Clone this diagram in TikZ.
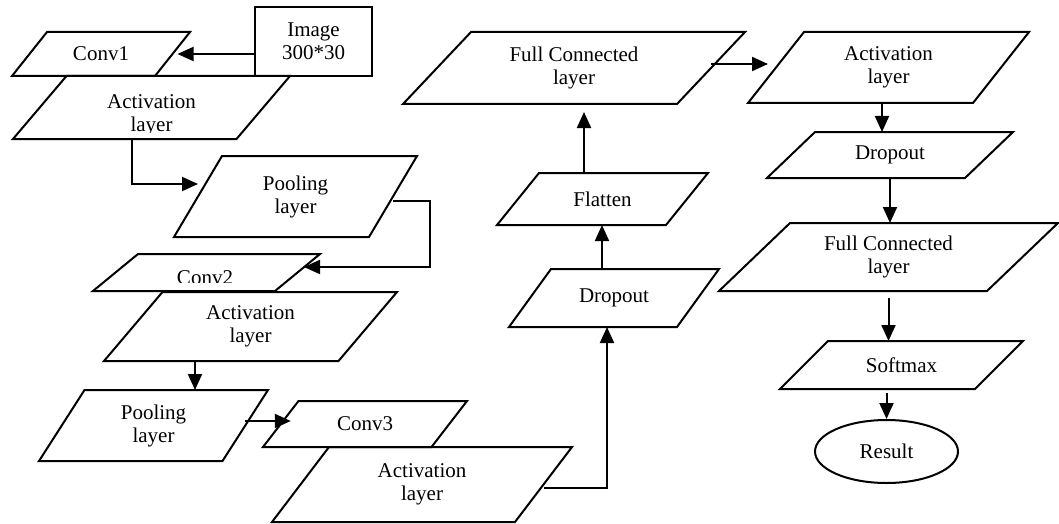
\documentclass[tikz,border=0pt]{standalone}
\usepackage{fontspec}
\setmainfont{Liberation Serif}
\usepackage{tikz}
\usetikzlibrary{shapes.geometric,arrows.meta}

\begin{document}
\begin{tikzpicture}[x=0.5pt,y=-0.5pt,
        line width=1pt,
        font=\fontsize{10.5}{11.5}\selectfont,
        % width at mid height, height, half of the lean
        layer/.style n args = {3}{rectangle,
            outer sep=0pt, inner sep=2pt, align=center,
            minimum width=#1, minimum height=#2,
            append after command={\pgfextra{%
                \draw ([xshift=#3]\tikzlastnode.north west) -- ([xshift=#3]\tikzlastnode.north east)
                    -- ([xshift=-#3]\tikzlastnode.south east) -- ([xshift=-#3]\tikzlastnode.south west) -- cycle;}}},
        flow/.style = {-{Triangle[length=8pt,width=7pt]}}]

    \useasboundingbox (0,0) rectangle (1059,524);

    % Input
    \node[draw, minimum width=58.5pt, minimum height=34.5pt, align=center] (image) at (313.5,41.5) {Image\\300*30};

    % Block 1
    \node[layer={71.5pt}{22pt}{8.75pt}] (conv1) at (101,54) {Conv1};
    \node[layer={111.75pt}{31.5pt}{13.375pt}] (act1) at (151.5,107.5) {};
    \begin{scope}
        \clip (0,0) rectangle (1059,132.5);
        \node[align=center, inner sep=0pt] (act1text) at (151.5,115.75) {Activation\\layer};
    \end{scope}
    \node[layer={97.5pt}{40.5pt}{12pt}] (pool1) at (295.5,196.5) {Pooling\\layer};

    % Block 2
    \node[layer={91pt}{18.5pt}{11.25pt}] (conv2) at (206.5,272.5) {};
    \begin{scope}
        \clip (0,0) rectangle (1059,282);
        \node[inner sep=0pt] (conv2text) at (205,278) {Conv2};
    \end{scope}
    \node[layer={117.25pt}{34.5pt}{14.625pt}] (act2) at (250.5,326.5) {Activation\\layer};
    \node[layer={91.75pt}{35.5pt}{11.375pt}] (pool2) at (153.5,425.5) {Pooling\\layer};

    % Block 3
    \node[layer={84.25pt}{23pt}{8.875pt}] (conv3) at (365,424) {Conv3};
    \node[layer={121.5pt}{37.5pt}{14.25pt}] (act3) at (422,484.5) {Activation\\layer};

    % Middle column
    \node[layer={84pt}{29pt}{10.5pt}] (drop1) at (614,298) {Dropout};
    \node[layer={84.5pt}{26pt}{10.5pt}] (flatten) at (602.5,199) {Flatten};
    \node[layer={137pt}{36pt}{17pt}] (fc1) at (574,68) {Full Connected\\layer};

    % Right column
    \node[layer={112.5pt}{35.5pt}{14pt}] (act4) at (888.5,67.5) {Activation\\layer};
    \node[layer={99pt}{23pt}{12pt}] (drop2) at (890,155) {Dropout};
    \node[layer={134pt}{34pt}{17.75pt}] (fc2) at (888.5,257) {Full Connected\\layer};
    \node[layer={97.5pt}{24pt}{12pt}] (softmax) at (901.5,365) {Softmax};
    \node[draw, ellipse, minimum width=71.5pt, minimum height=31.5pt] (result) at (886.5,451.5) {Result};

    % Arrows
    \draw[flow, shorten >=2.5pt] (image.west |- conv1.east) -- (conv1.east);
    \draw[flow] ([xshift=-9.75pt]act1.south) |- ([yshift=6.25pt]pool1.west);
    \draw[flow] ([yshift=-2.25pt]pool1.east) -- ++(37,0) |- ([xshift=3.25pt,yshift=2.75pt]conv2.east);
    \draw[flow] ([xshift=-27.75pt]act2.south) -- ([xshift=-27.75pt]act2.south |- pool2.north);
    \draw[flow] ([yshift=2.25pt]pool2.east) -- ([xshift=5pt,yshift=2.25pt]pool2.east -| conv3.west);
    \draw[flow] ([yshift=-1.75pt]act3.east) -| ([xshift=-3.5pt]drop1.south);
    \draw[flow] ([xshift=-6pt]drop1.north) -- ([xshift=-6pt]drop1.north |- flatten.south);
    \draw[flow, shorten >=4pt] ([xshift=-9.25pt]flatten.north) -- ([xshift=-9.25pt]flatten.north |- fc1.south);
    \draw[flow, shorten >=4pt] ([yshift=2pt]fc1.east) -- ([yshift=2pt]fc1.east -| act4.west);
    \draw[flow] ([xshift=-3.25pt]act4.south) -- ([xshift=-3.25pt]act4.south |- drop2.north);
    \draw[flow] (drop2.south) -- (drop2.south |- fc2.north);
    \draw[flow, shorten <=3.5pt] (fc2.south) -- (fc2.south |- softmax.north);
    \draw[flow, shorten <=2pt] (result.north |- softmax.south) -- (result.north);

\end{tikzpicture}
\end{document}
